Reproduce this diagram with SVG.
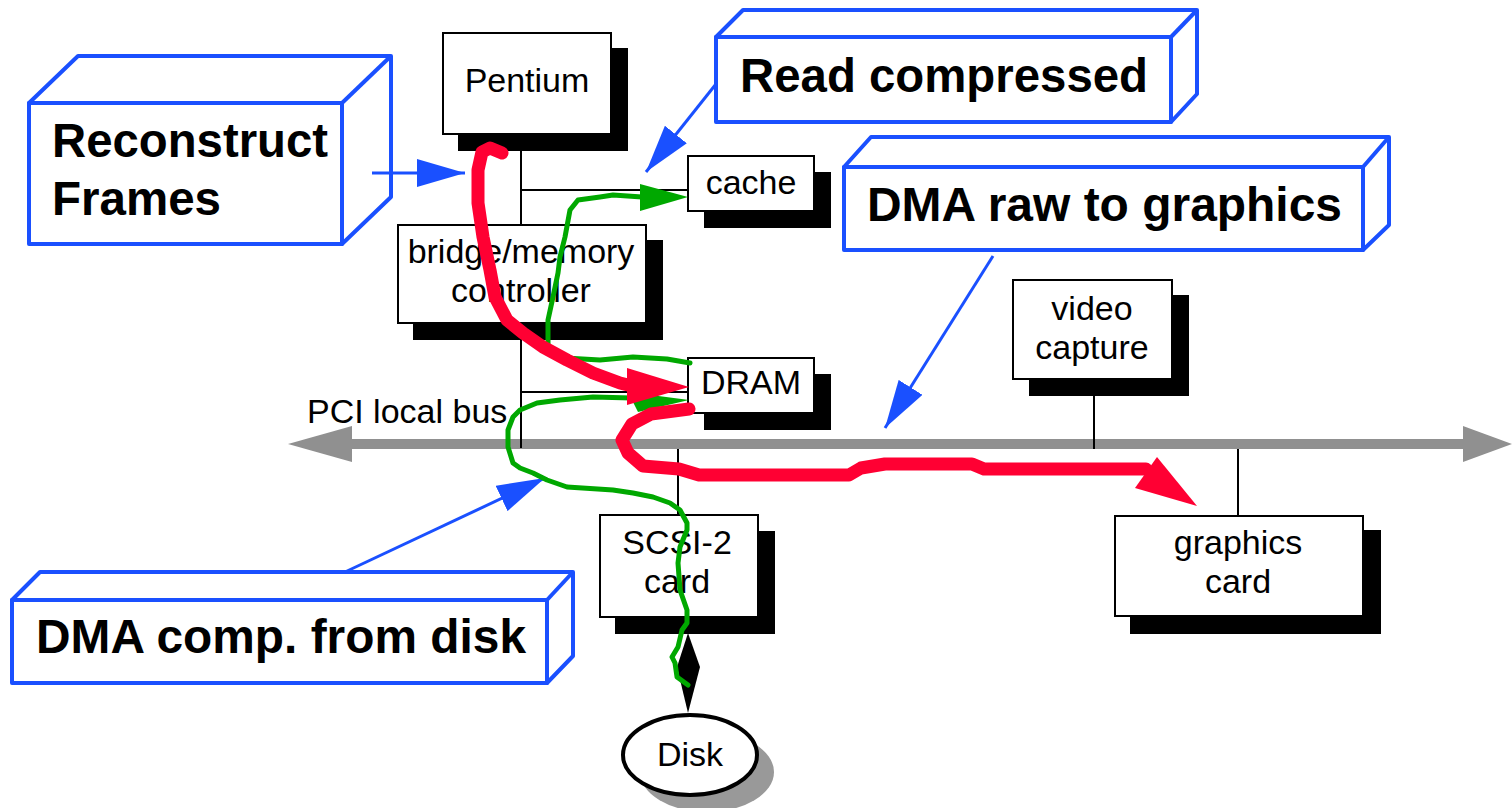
<svg xmlns="http://www.w3.org/2000/svg" width="1512" height="808" viewBox="0 0 1512 808">
<defs>
<style>
.node{fill:#fff;stroke:#000;stroke-width:2}
.shadow{fill:#000}
.lbl{font-family:"Liberation Sans",Arial,sans-serif;font-size:34px;fill:#000;text-anchor:middle}
.big{font-family:"Liberation Sans",Arial,sans-serif;font-size:47.5px;font-weight:bold;fill:#000}
.box3d{fill:#fff;stroke:#1a50ff;stroke-width:4;stroke-linejoin:round}
.wire{stroke:#000;stroke-width:2;fill:none}
.blue{stroke:#1a50ff;stroke-width:3;fill:none}
.red{stroke:#ff0033;stroke-width:13;fill:none;stroke-linejoin:round;stroke-linecap:round}
.green{stroke:#00a800;stroke-width:5;fill:none;stroke-linejoin:round;stroke-linecap:round}
</style>
<marker id="bluehead" viewBox="0 0 48 28" refX="48" refY="14" markerWidth="48" markerHeight="28" markerUnits="userSpaceOnUse" orient="auto">
<path d="M0,0 L48,14 L0,28 Z" fill="#1a50ff"/>
</marker>
</defs>
<rect width="1512" height="808" fill="#fff"/>

<g id="bus">
<line x1="350" y1="444" x2="1465" y2="444" stroke="#909090" stroke-width="10"/>
<polygon points="288,444 352,426 352,462" fill="#909090"/>
<polygon points="1512,444 1463,426 1463,462" fill="#909090"/>
<text class="lbl" x="307" y="423" style="text-anchor:start">PCI local bus</text>
</g>

<g id="wires">
<line class="wire" x1="521" y1="140" x2="521" y2="448"/>
<line class="wire" x1="521" y1="190" x2="688" y2="190"/>
<line class="wire" x1="521" y1="392" x2="688" y2="392"/>
<line class="wire" x1="678" y1="449" x2="678" y2="515"/>
<line class="wire" x1="1094" y1="390" x2="1094" y2="449"/>
<line class="wire" x1="1238" y1="449" x2="1238" y2="516"/>
<polygon points="688,633 700,667 688,713 677,667" fill="#000"/>
</g>

<g id="reconstruct">
<polygon class="box3d" points="29,103 78,56 391,56 391,197 342,244 342,103"/>
<line class="blue" x1="342" y1="103" x2="391" y2="56" style="stroke-width:4"/>
<rect class="box3d" x="29" y="103" width="313" height="141"/>
<text class="big" x="52" y="157" textLength="276" lengthAdjust="spacingAndGlyphs">Reconstruct</text>
<text class="big" x="52" y="215">Frames</text>
</g>

<g id="pentium">
<rect class="shadow" x="458" y="48" width="170" height="103"/>
<rect class="node" x="443" y="33" width="168" height="101"/>
<text class="lbl" x="527" y="92">Pentium</text>
</g>

<g id="cache">
<rect class="shadow" x="704" y="172" width="127" height="56"/>
<rect class="node" x="688" y="156" width="126" height="55"/>
<text class="lbl" x="751" y="194">cache</text>
</g>

<g id="bridge">
<rect class="shadow" x="413" y="240" width="250" height="100"/>
<rect class="node" x="398" y="225" width="248" height="98"/>
<text class="lbl" x="521" y="263">bridge/memory</text>
<text class="lbl" x="521" y="302">controller</text>
</g>

<g id="dram">
<rect class="shadow" x="704" y="374" width="127" height="56"/>
<rect class="node" x="688" y="358" width="126" height="55"/>
<text class="lbl" x="751" y="394">DRAM</text>
</g>

<g id="video">
<rect class="shadow" x="1029" y="295" width="160" height="101"/>
<rect class="node" x="1013" y="280" width="159" height="99"/>
<text class="lbl" x="1092" y="320">video</text>
<text class="lbl" x="1092" y="359">capture</text>
</g>

<g id="scsi">
<rect class="shadow" x="615" y="531" width="160" height="103"/>
<rect class="node" x="600" y="515" width="158" height="102"/>
<text class="lbl" x="677" y="554">SCSI-2</text>
<text class="lbl" x="677" y="593">card</text>
</g>

<g id="graphics">
<rect class="shadow" x="1130" y="530" width="251" height="104"/>
<rect class="node" x="1115" y="516" width="248" height="100"/>
<text class="lbl" x="1238" y="554">graphics</text>
<text class="lbl" x="1238" y="593">card</text>
</g>

<g id="disk">
<ellipse cx="707" cy="772" rx="67" ry="40" fill="#999"/>
<ellipse cx="690" cy="755" rx="67" ry="40" fill="#fff" stroke="#000" stroke-width="4"/>
<text class="lbl" x="690" y="766">Disk</text>
</g>

<g id="readcompressed">
<polygon class="box3d" points="716,37 743,10 1197,10 1197,94 1171,122 1171,37"/>
<line class="blue" x1="1171" y1="37" x2="1197" y2="10" style="stroke-width:4"/>
<rect class="box3d" x="716" y="37" width="455" height="85"/>
<text class="big" x="740" y="92" textLength="408" lengthAdjust="spacingAndGlyphs">Read compressed</text>
</g>

<g id="dmaraw">
<polygon class="box3d" points="844,167 871,137 1389,137 1389,225 1363,250 1363,167"/>
<line class="blue" x1="1363" y1="167" x2="1389" y2="137" style="stroke-width:4"/>
<rect class="box3d" x="844" y="167" width="519" height="83"/>
<text class="big" x="867" y="221" textLength="475" lengthAdjust="spacingAndGlyphs">DMA raw to graphics</text>
</g>

<g id="dmacomp">
<polygon class="box3d" points="12,600 40,572 573,572 573,656 547,683 547,600"/>
<line class="blue" x1="547" y1="600" x2="573" y2="572" style="stroke-width:4"/>
<rect class="box3d" x="12" y="600" width="535" height="83"/>
<text class="big" x="36" y="653" textLength="490" lengthAdjust="spacingAndGlyphs">DMA comp. from disk</text>
</g>

<g id="connectors">
<line class="blue" x1="372" y1="173" x2="465" y2="173" marker-end="url(#bluehead)"/>
<line class="blue" x1="716" y1="84" x2="646" y2="172" marker-end="url(#bluehead)"/>
<line class="blue" x1="993" y1="256" x2="885" y2="428" marker-end="url(#bluehead)"/>
<line class="blue" x1="345" y1="572" x2="545" y2="478" marker-end="url(#bluehead)"/>

<path class="green" d="M548,345 L548,320 L553,297 L558,273 L560,257 L565,237 L570,210 L578,200 L600,197 L613,195 L642,197"/>
<polygon points="640,184 688,197 640,211" fill="#00a800"/>
<path class="green" d="M565,358 L600,360 L633,357 L667,359 L690,363"/>
<path class="green" d="M688,685 L677,677 L675,663 L672,657 L678,647 L682,630 L687,623 L687,610 L680,590 L678,563 L680,547 L687,530 L687,523 L680,510 L670,503 L653,497 L633,493 L613,490 L567,487 L547,480 L533,473 L520,468 L513,463 L508,447 L508,430 L513,417 L520,410 L537,403 L560,400 L593,397 L632,398"/>
<polygon points="628,392 689,400 638,412" fill="#00a800"/>

<path class="red" d="M502,153 L490,148 L482,152 L478,170 L478,203 L483,237 L490,270 L495,297 L507,320 L523,333 L543,347 L567,360 L593,373 L620,383 L632,386"/>
<polygon points="627,368 689,387 627,405" fill="#ff0033"/>
<path class="red" d="M689,409 L651,414 L632,424 L622,440 L628,453 L643,466 L679,469 L699,475 L849,475 L861,468 L885,464 L972,464 L984,469 L1146,469"/>
<polygon points="1157,457 1197,506 1135,488" fill="#ff0033"/>
</g>
</svg>
